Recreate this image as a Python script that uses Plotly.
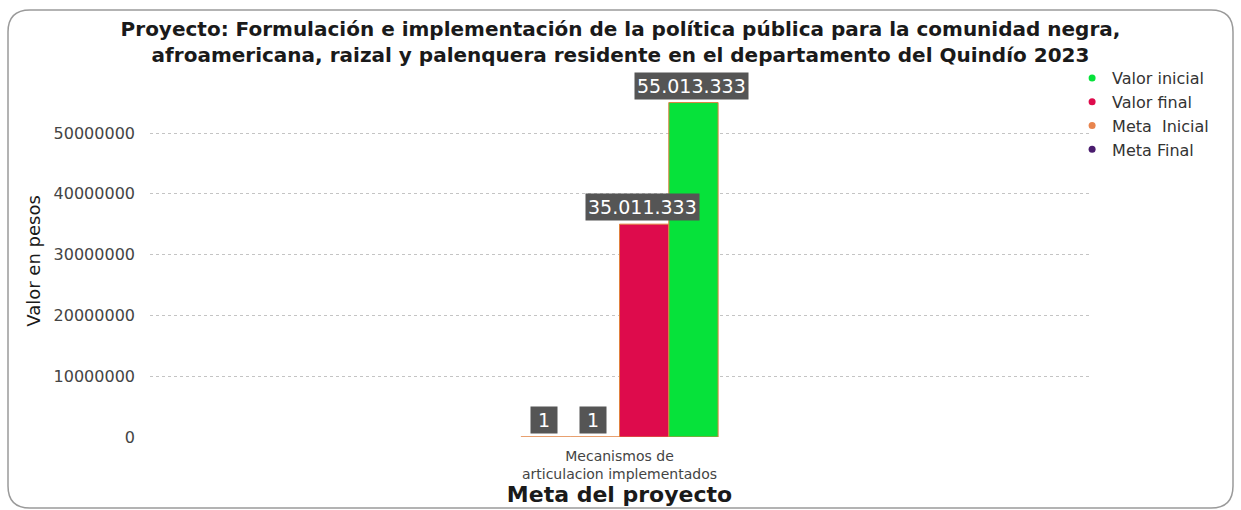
import plotly.graph_objects as go

categories = ["Mecanismos de<br>articulacion implementados"]
series_names = ["Meta  Inicial", "Meta Final", "Valor final", "Valor inicial"]
series_values = [[1], [1], [35011333], [55013333]]
series_colors = ["#E8844E", "#4A1C6E", "#DE0B4C", "#06E23A"]
legend_order = ["Valor inicial", "Valor final", "Meta  Inicial", "Meta Final"]
y_ticks = [0, 10000000, 20000000, 30000000, 40000000, 50000000]

FONT = "DejaVu Sans"
W, H = 1241, 510
ML, MR, MT, MB = 150, 152, 85, 73
PW, PH = W - ML - MR, H - MT - MB
BARGAP = 0.79

fig = go.Figure()
for name, vals, col in zip(series_names, series_values, series_colors):
    fig.add_trace(go.Bar(
        x=categories, y=vals, name=name, marker_color=col,
        marker_line_color="#E0803F", marker_line_width=1, showlegend=False,
    ))
for name in legend_order:
    col = series_colors[series_names.index(name)]
    fig.add_trace(go.Scatter(
        x=[None], y=[None], mode="markers", name=name,
        marker=dict(color=col, size=7, symbol="circle"),
    ))

bar_w = PW * (1 - BARGAP) / len(series_names)
n = len(series_names)
for i, vals in enumerate(series_values):
    for c, v in zip(categories, vals):
        label = f"{v:,}".replace(",", ".")
        fig.add_annotation(
            x=c, y=v, xref="x", yref="y",
            text=label,
            showarrow=False, yanchor="bottom", yshift=3,
            xshift=(i - (n - 1) / 2) * bar_w - 2,
            width=22 if len(label) < 3 else None,
            bgcolor="#555555", borderpad=2,
            font=dict(color="white", size=19, family=FONT),
        )

# rounded border
x0, x1 = (8 - ML) / PW, (1233 - ML) / PW
y0, y1 = (H - MB - 508) / PH, (H - MB - 10) / PH
rx, ry = 22 / PW, 22 / PH
path = (f"M {x0+rx} {y1} L {x1-rx} {y1} Q {x1} {y1} {x1} {y1-ry} "
        f"L {x1} {y0+ry} Q {x1} {y0} {x1-rx} {y0} L {x0+rx} {y0} "
        f"Q {x0} {y0} {x0} {y0+ry} L {x0} {y1-ry} Q {x0} {y1} {x0+rx} {y1} Z")
fig.add_shape(type="path", path=path, xref="paper", yref="paper",
              line=dict(color="#9A9A9A", width=1.5), layer="below")

fig.update_layout(
    width=W, height=H,
    margin=dict(l=ML, r=MR, t=MT, b=MB),
    paper_bgcolor="white", plot_bgcolor="white",
    barmode="group", bargap=BARGAP, bargroupgap=0,
    font=dict(family=FONT, color="#333"),
    title=dict(
        text="<b>Proyecto: Formulación e implementación de la política pública para la comunidad negra,<br>"
             "afroamericana, raizal y palenquera residente en el departamento del Quindío 2023</b>",
        x=0.5, xanchor="center", y=0.93, yanchor="top",
        font=dict(size=20, color="#1a1a1a", family=FONT),
    ),
    xaxis=dict(
        title=dict(text="<b>Meta del proyecto</b>", font=dict(size=22, color="#1a1a1a"), standoff=0),
        tickfont=dict(size=14, color="#444"), showgrid=False, showline=False,
        ticklabelstandoff=9,
    ),
    yaxis=dict(
        title=dict(text="Valor en pesos", font=dict(size=18, color="#1a1a1a"), standoff=8),
        range=[0, 57900000], tickvals=y_ticks, ticktext=[str(t) for t in y_ticks],
        tickfont=dict(size=16, color="#444"), ticklabelstandoff=14,
        showgrid=True, gridcolor="#C4C4C4", griddash="dot", gridwidth=1,
        zeroline=False, ticks="",
    ),
    legend=dict(
        x=0.982, y=1.068, xanchor="left", yanchor="top",
        font=dict(size=16, color="#333"), tracegroupgap=2, itemwidth=30,
        bgcolor="rgba(0,0,0,0)",
    ),
)

fig.write_html("out.html")
